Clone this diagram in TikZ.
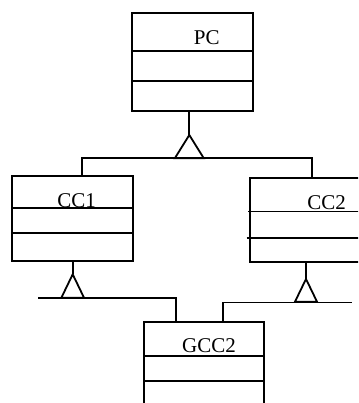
\documentclass[tikz,border=0pt]{standalone}
\usepackage{fontspec}
\setmainfont{Liberation Serif}
\begin{document}
\begin{tikzpicture}[x=1pt,y=-1pt,line width=1.8pt,
  classbox/.style={draw,anchor=north west,inner sep=0pt,outer sep=0pt},
  lbl/.style={anchor=base,inner sep=0pt,font=\fontsize{21}{24}\selectfont}]
\useasboundingbox (0,0) rectangle (358,403);
\clip (0,0) rectangle (358,403);
% class boxes
\node[classbox,minimum width=121pt,minimum height=97.7pt] (pc) at (131.7,13) {};
\node[classbox,minimum width=121pt,minimum height=84.7pt] (cc1) at (11.7,176) {};
\node[classbox,minimum width=130pt,minimum height=84pt] (cc2) at (250,178) {};
\node[classbox,minimum width=120.3pt,minimum height=100pt] (gcc2) at (144,321.7) {};
% compartments
\draw (pc.west |- 0,50.7) -- (pc.east |- 0,50.7);
\draw (pc.west |- 0,80.7) -- (pc.east |- 0,80.7);
\draw (cc1.west |- 0,207.7) -- (cc1.east |- 0,207.7);
\draw (cc1.west |- 0,233.3) -- (cc1.east |- 0,233.3);
\draw (248.3,211.5) -- (cc2.east |- 0,211.5);
\draw (246.7,237.7) -- (cc2.east |- 0,237.7);
\draw (gcc2.west |- 0,355.7) -- (gcc2.east |- 0,355.7);
\draw (gcc2.west |- 0,380.7) -- (gcc2.east |- 0,380.7);
% labels
\node[lbl] (pct) at (206.7,44.3) {PC};
\node[lbl] (cc1t) at (76.7,207.7) {CC1};
\node[lbl] (cc2t) at (326.7,209) {CC2};
\node[lbl] (gcc2t) at (209,352.7) {GCC2};
% generalization PC
\coordinate (a1) at (189.3,135);
\draw (pc.south -| a1) -- (a1);
\draw (a1) -- ++(-14.5,23.3) -- ++(29,0) -- cycle;
\coordinate (j1l) at (81.7,158.3);
\coordinate (j1r) at (312.3,158.3);
\draw (cc1.north -| j1l) -- (j1l) -- (j1r) -- (cc2.north -| j1r);
% generalization CC1
\coordinate (a2) at (72.7,274.3);
\draw (cc1.south -| a2) -- (a2);
\draw (a2) -- ++(-11.3,23.4) -- ++(22.6,0) -- cycle;
\coordinate (j2l) at (38.3,298);
\coordinate (j2r) at (176,298);
\draw (j2l) -- (j2r) -- (gcc2.north -| j2r);
% generalization CC2
\coordinate (a3) at (306,279);
\draw (cc2.south -| a3) -- (a3);
\draw (a3) -- ++(-11,22.7) -- ++(22,0) -- cycle;
\coordinate (j3l) at (223,302.5);
\coordinate (j3r) at (351.5,302.5);
\draw (j3r) -- (j3l) -- (gcc2.north -| j3l);
\end{tikzpicture}
\end{document}
